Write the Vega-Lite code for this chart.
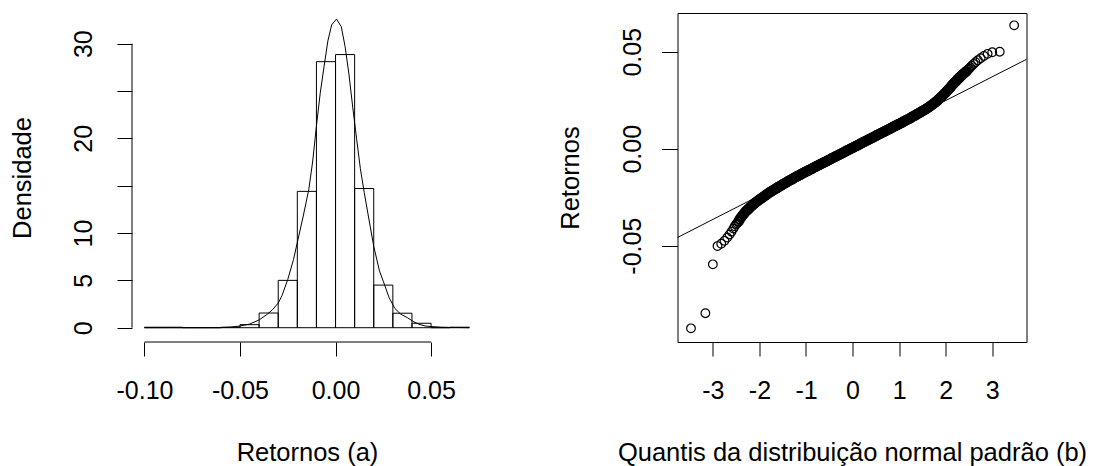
{
  "$schema": "https://vega.github.io/schema/vega-lite/v6.json",
  "autosize": {"type": "pad"},
  "padding": {"left": 10, "top": 12, "right": 5, "bottom": 0},
  "background": "white",
  "bounds": "flush",
  "spacing": 195.5,
  "config": {
    "font": "Liberation Sans",
    "axis": {
      "grid": false,
      "labelFont": "Liberation Sans",
      "titleFont": "Liberation Sans",
      "labelFontSize": 25,
      "titleFontSize": 25.5,
      "titleFontWeight": "normal",
      "labelColor": "#000",
      "titleColor": "#000",
      "tickColor": "#000",
      "tickWidth": 1,
      "labelFlush": false,
      "labelOverlap": false,
      "labelBound": false
    }
  },
  "datasets": {
    "bins": [
      {"x": -0.10, "x2": -0.09, "y": 0.05},
      {"x": -0.09, "x2": -0.08, "y": 0.05},
      {"x": -0.08, "x2": -0.07, "y": 0},
      {"x": -0.07, "x2": -0.06, "y": 0},
      {"x": -0.06, "x2": -0.05, "y": 0.05},
      {"x": -0.05, "x2": -0.04, "y": 0.32},
      {"x": -0.04, "x2": -0.03, "y": 1.55},
      {"x": -0.03, "x2": -0.02, "y": 5.0},
      {"x": -0.02, "x2": -0.01, "y": 14.4},
      {"x": -0.01, "x2": 0.0, "y": 28.1},
      {"x": 0.0, "x2": 0.01, "y": 28.85},
      {"x": 0.01, "x2": 0.02, "y": 14.7},
      {"x": 0.02, "x2": 0.03, "y": 4.5},
      {"x": 0.03, "x2": 0.04, "y": 1.53},
      {"x": 0.04, "x2": 0.05, "y": 0.47},
      {"x": 0.05, "x2": 0.06, "y": 0},
      {"x": 0.06, "x2": 0.07, "y": 0.05}
    ],
    "dens": [
      {"x": -0.100, "y": 0}, {"x": -0.060, "y": 0.01}, {"x": -0.055, "y": 0.06},
      {"x": -0.050, "y": 0.18}, {"x": -0.045, "y": 0.38}, {"x": -0.040, "y": 0.82},
      {"x": -0.036, "y": 1.38}, {"x": -0.033, "y": 1.9}, {"x": -0.030, "y": 2.6},
      {"x": -0.028, "y": 3.4}, {"x": -0.025, "y": 5.1}, {"x": -0.022, "y": 7.2},
      {"x": -0.020, "y": 9.0}, {"x": -0.017, "y": 11.7}, {"x": -0.014, "y": 14.6},
      {"x": -0.012, "y": 17.5}, {"x": -0.010, "y": 21.3}, {"x": -0.008, "y": 24.8},
      {"x": -0.006, "y": 27.6}, {"x": -0.004, "y": 30.3}, {"x": -0.002, "y": 32.0},
      {"x": 0.0005, "y": 32.6}, {"x": 0.003, "y": 31.8}, {"x": 0.005, "y": 29.7},
      {"x": 0.007, "y": 26.8}, {"x": 0.009, "y": 23.3}, {"x": 0.011, "y": 20.0},
      {"x": 0.013, "y": 16.8}, {"x": 0.015, "y": 14.3}, {"x": 0.017, "y": 12.0},
      {"x": 0.020, "y": 8.6}, {"x": 0.023, "y": 6.0}, {"x": 0.025, "y": 4.9},
      {"x": 0.028, "y": 3.2}, {"x": 0.031, "y": 2.05}, {"x": 0.034, "y": 1.45},
      {"x": 0.0376, "y": 1.06}, {"x": 0.041, "y": 0.62}, {"x": 0.0437, "y": 0.36},
      {"x": 0.047, "y": 0.18}, {"x": 0.050, "y": 0.12}, {"x": 0.055, "y": 0.06},
      {"x": 0.060, "y": 0.03}, {"x": 0.065, "y": 0.02}, {"x": 0.070, "y": 0.0}
    ],
    "hxaxis": [{"x": -0.10, "x2": 0.05, "y": -1.51}],
    "hyaxis": [{"x": -0.10653, "y": 0, "y2": 30}],
    "qqline": [{"x": -3.9, "y": -0.0475}, {"x": 3.9, "y": 0.0481}],
    "qq": [
      {"x":-3.47,"y":-0.0926},{"x":-3.16,"y":-0.0848},{"x":-3.00,"y":-0.0596},{"x":-2.90,"y":-0.0502},
      {"x":-2.82,"y":-0.0490},{"x":-2.75,"y":-0.0475},{"x":-2.69,"y":-0.0458},{"x":-2.64,"y":-0.0442},
      {"x":-2.60,"y":-0.0428},{"x":-2.56,"y":-0.0412},{"x":-2.53,"y":-0.0400},{"x":-2.50,"y":-0.0390},
      {"x":-2.48,"y":-0.0384},{"x":-2.45,"y":-0.0375},{"x":-2.425,"y":-0.0365},{"x":-2.40,"y":-0.0355},
      {"x":-2.375,"y":-0.0348},{"x":-2.35,"y":-0.0340},{"x":-2.325,"y":-0.0333},{"x":-2.30,"y":-0.0325},
      {"x":-2.275,"y":-0.0319},{"x":-2.25,"y":-0.0314},{"x":-2.225,"y":-0.0308},{"x":-2.20,"y":-0.0302},
      {"x":-2.175,"y":-0.0297},{"x":-2.15,"y":-0.0291},{"x":-2.125,"y":-0.0286},{"x":-2.10,"y":-0.0280},
      {"x":-2.075,"y":-0.0276},{"x":-2.05,"y":-0.0271},{"x":-2.025,"y":-0.0267},{"x":-2.00,"y":-0.0262},
      {"x":-1.975,"y":-0.0258},{"x":-1.95,"y":-0.0254},{"x":-1.925,"y":-0.0250},{"x":-1.90,"y":-0.0245},
      {"x":-1.875,"y":-0.0241},{"x":-1.85,"y":-0.0237},{"x":-1.825,"y":-0.0232},{"x":-1.80,"y":-0.0228},
      {"x":-1.775,"y":-0.0224},{"x":-1.75,"y":-0.0221},{"x":-1.725,"y":-0.0217},{"x":-1.70,"y":-0.0213},
      {"x":-1.675,"y":-0.0209},{"x":-1.65,"y":-0.0206},{"x":-1.625,"y":-0.0202},{"x":-1.60,"y":-0.0198},
      {"x":-1.575,"y":-0.0195},{"x":-1.55,"y":-0.0191},{"x":-1.525,"y":-0.0188},{"x":-1.50,"y":-0.0184},
      {"x":-1.475,"y":-0.0181},{"x":-1.45,"y":-0.0177},{"x":-1.425,"y":-0.0174},{"x":-1.40,"y":-0.0170},
      {"x":-1.375,"y":-0.0167},{"x":-1.35,"y":-0.0163},{"x":-1.325,"y":-0.0160},{"x":-1.30,"y":-0.0157},
      {"x":-1.275,"y":-0.0153},{"x":-1.25,"y":-0.0150},{"x":-1.225,"y":-0.0146},{"x":-1.20,"y":-0.0143},
      {"x":-1.175,"y":-0.0140},{"x":-1.15,"y":-0.0137},{"x":-1.125,"y":-0.0134},{"x":-1.10,"y":-0.0131},
      {"x":-1.075,"y":-0.0127},{"x":-1.05,"y":-0.0124},{"x":-1.025,"y":-0.0121},{"x":-1.00,"y":-0.0118},
      {"x":-0.975,"y":-0.0115},{"x":-0.95,"y":-0.0112},{"x":-0.925,"y":-0.0109},{"x":-0.90,"y":-0.0106},
      {"x":-0.875,"y":-0.0103},{"x":-0.85,"y":-0.0100},{"x":-0.825,"y":-0.0096},{"x":-0.80,"y":-0.0093},
      {"x":-0.775,"y":-0.0090},{"x":-0.75,"y":-0.0087},{"x":-0.725,"y":-0.0084},{"x":-0.70,"y":-0.0081},
      {"x":-0.675,"y":-0.0078},{"x":-0.65,"y":-0.0075},{"x":-0.625,"y":-0.0072},{"x":-0.60,"y":-0.0069},
      {"x":-0.575,"y":-0.0066},{"x":-0.55,"y":-0.0063},{"x":-0.525,"y":-0.0060},{"x":-0.50,"y":-0.0057},
      {"x":-0.475,"y":-0.0053},{"x":-0.45,"y":-0.0050},{"x":-0.425,"y":-0.0047},{"x":-0.40,"y":-0.0044},
      {"x":-0.375,"y":-0.0041},{"x":-0.35,"y":-0.0038},{"x":-0.325,"y":-0.0035},{"x":-0.30,"y":-0.0032},
      {"x":-0.275,"y":-0.0029},{"x":-0.25,"y":-0.0026},{"x":-0.225,"y":-0.0023},{"x":-0.20,"y":-0.0020},
      {"x":-0.175,"y":-0.0017},{"x":-0.15,"y":-0.0013},{"x":-0.125,"y":-0.0010},{"x":-0.10,"y":-0.0007},
      {"x":-0.075,"y":-0.0004},{"x":-0.05,"y":-0.0001},{"x":-0.025,"y":0.0002},{"x":0.00,"y":0.0005},
      {"x":0.025,"y":0.0008},{"x":0.05,"y":0.0011},{"x":0.075,"y":0.0014},{"x":0.10,"y":0.0017},
      {"x":0.125,"y":0.0020},{"x":0.15,"y":0.0023},{"x":0.175,"y":0.0027},{"x":0.20,"y":0.0030},
      {"x":0.225,"y":0.0033},{"x":0.25,"y":0.0036},{"x":0.275,"y":0.0039},{"x":0.30,"y":0.0042},
      {"x":0.325,"y":0.0045},{"x":0.35,"y":0.0048},{"x":0.375,"y":0.0051},{"x":0.40,"y":0.0054},
      {"x":0.425,"y":0.0057},{"x":0.45,"y":0.0060},{"x":0.475,"y":0.0063},{"x":0.50,"y":0.0067},
      {"x":0.525,"y":0.0070},{"x":0.55,"y":0.0073},{"x":0.575,"y":0.0076},{"x":0.60,"y":0.0079},
      {"x":0.625,"y":0.0082},{"x":0.65,"y":0.0085},{"x":0.675,"y":0.0088},{"x":0.70,"y":0.0091},
      {"x":0.725,"y":0.0094},{"x":0.75,"y":0.0097},{"x":0.775,"y":0.0100},{"x":0.80,"y":0.0103},
      {"x":0.825,"y":0.0106},{"x":0.85,"y":0.0110},{"x":0.875,"y":0.0113},{"x":0.90,"y":0.0116},
      {"x":0.925,"y":0.0119},{"x":0.95,"y":0.0122},{"x":0.975,"y":0.0125},{"x":1.00,"y":0.0128},
      {"x":1.025,"y":0.0131},{"x":1.05,"y":0.0134},{"x":1.075,"y":0.0137},{"x":1.10,"y":0.0141},
      {"x":1.125,"y":0.0144},{"x":1.15,"y":0.0147},{"x":1.175,"y":0.0150},{"x":1.20,"y":0.0153},
      {"x":1.225,"y":0.0156},{"x":1.25,"y":0.0160},{"x":1.275,"y":0.0163},{"x":1.30,"y":0.0167},
      {"x":1.325,"y":0.0170},{"x":1.35,"y":0.0173},{"x":1.375,"y":0.0177},{"x":1.40,"y":0.0180},
      {"x":1.425,"y":0.0184},{"x":1.45,"y":0.0187},{"x":1.475,"y":0.0191},{"x":1.50,"y":0.0194},
      {"x":1.525,"y":0.0198},{"x":1.55,"y":0.0201},{"x":1.575,"y":0.0205},{"x":1.60,"y":0.0208},
      {"x":1.625,"y":0.0212},{"x":1.65,"y":0.0216},{"x":1.675,"y":0.0221},{"x":1.70,"y":0.0225},
      {"x":1.725,"y":0.0230},{"x":1.75,"y":0.0234},{"x":1.775,"y":0.0239},{"x":1.80,"y":0.0244},
      {"x":1.825,"y":0.0249},{"x":1.85,"y":0.0255},{"x":1.875,"y":0.0260},{"x":1.90,"y":0.0266},
      {"x":1.925,"y":0.0272},{"x":1.95,"y":0.0278},{"x":1.975,"y":0.0284},{"x":2.00,"y":0.0290},
      {"x":2.025,"y":0.0297},{"x":2.05,"y":0.0303},{"x":2.075,"y":0.0310},{"x":2.10,"y":0.0316},
      {"x":2.125,"y":0.0324},{"x":2.15,"y":0.0331},{"x":2.175,"y":0.0337},{"x":2.20,"y":0.0343},
      {"x":2.225,"y":0.0349},{"x":2.25,"y":0.0356},{"x":2.275,"y":0.0362},{"x":2.30,"y":0.0368},
      {"x":2.325,"y":0.0374},{"x":2.35,"y":0.0379},{"x":2.375,"y":0.0385},{"x":2.40,"y":0.0390},
      {"x":2.425,"y":0.0395},{"x":2.45,"y":0.0400},{"x":2.48,"y":0.0407},{"x":2.50,"y":0.0412},
      {"x":2.53,"y":0.0420},{"x":2.56,"y":0.0428},{"x":2.60,"y":0.0437},{"x":2.64,"y":0.0446},
      {"x":2.69,"y":0.0456},{"x":2.75,"y":0.0466},{"x":2.82,"y":0.0478},{"x":2.90,"y":0.0489},
      {"x":3.00,"y":0.0497},{"x":3.16,"y":0.0500},{"x":3.47,"y":0.0636}
    ]
  },
  "hconcat": [
    {
      "width": 350,
      "height": 329,
      "view": {"stroke": null},
      "layer": [
        {
          "data": {"name": "bins"},
          "mark": {"type": "bar", "fill": "white", "fillOpacity": 0, "stroke": "#000", "strokeWidth": 1, "clip": false},
          "encoding": {
            "x": {
              "field": "x", "type": "quantitative", "title": "Retornos (a)",
              "scale": {"domain": [-0.10653, 0.07666], "nice": false, "zero": false},
              "axis": {
                "values": [-0.1, -0.05, 0, 0.05],
                "domain": false,
                "tickSize": 14,
                "labelPadding": 42,
                "labelBaseline": "alphabetic",
                "labelExpr": "replace(format(datum.value, '.2f'), '\u2212', '-')",
                "titleBaseline": "alphabetic",
                "titleY": 118.5
              }
            },
            "x2": {"field": "x2"},
            "y": {
              "field": "y", "type": "quantitative", "title": "Densidade",
              "scale": {"domain": [-1.51, 33.24], "nice": false, "zero": false},
              "axis": {
                "values": [0, 5, 10, 15, 20, 25, 30],
                "domain": false,
                "tickSize": 15,
                "labelPadding": 26,
                "labelAngle": 270,
                "labelAlign": "center",
                "labelBaseline": "alphabetic",
                "labelExpr": "datum.value == 15 || datum.value == 25 ? '' : datum.label",
                "titleAngle": 270,
                "titleAlign": "center",
                "titleBaseline": "alphabetic",
                "titleX": -101.5
              }
            },
            "y2": {"datum": 0}
          }
        },
        {
          "data": {"name": "dens"},
          "mark": {"type": "line", "color": "#000", "strokeWidth": 1, "clip": true},
          "encoding": {
            "x": {"field": "x", "type": "quantitative", "title": "Retornos (a)"},
            "y": {"field": "y", "type": "quantitative", "title": "Densidade"}
          }
        },
        {
          "data": {"name": "hxaxis"},
          "mark": {"type": "rule", "color": "#000", "strokeWidth": 1},
          "encoding": {
            "x": {"field": "x", "type": "quantitative", "title": "Retornos (a)"},
            "x2": {"field": "x2"},
            "y": {"field": "y", "type": "quantitative", "title": "Densidade"}
          }
        },
        {
          "data": {"name": "hyaxis"},
          "mark": {"type": "rule", "color": "#000", "strokeWidth": 1},
          "encoding": {
            "x": {"field": "x", "type": "quantitative", "title": "Retornos (a)"},
            "y": {"field": "y", "type": "quantitative", "title": "Densidade"},
            "y2": {"field": "y2"}
          }
        }
      ]
    },
    {
      "width": 349,
      "height": 329,
      "view": {"stroke": "#000", "strokeWidth": 1},
      "layer": [
        {
          "data": {"name": "qq"},
          "transform": [{"filter": "abs(datum.x) > 2.46"}],
          "mark": {"type": "point", "shape": "circle", "filled": false, "color": "#000", "size": 75, "strokeWidth": 1.2, "opacity": 1},
          "encoding": {
            "x": {
              "field": "x", "type": "quantitative", "title": "Quantis da distribuição normal padrão (b)",
              "scale": {"domain": [-3.759, 3.735], "nice": false, "zero": false},
              "axis": {
                "values": [-3, -2, -1, 0, 1, 2, 3],
                "domain": false,
                "tickSize": 14,
                "labelPadding": 42,
                "labelBaseline": "alphabetic",
                "labelExpr": "replace(format(datum.value, 'd'), '\u2212', '-')",
                "titleBaseline": "alphabetic",
                "titleY": 118.5
              }
            },
            "y": {
              "field": "y", "type": "quantitative", "title": "Retornos",
              "scale": {"domain": [-0.09964, 0.06995], "nice": false, "zero": false},
              "axis": {
                "values": [-0.05, 0, 0.05],
                "domain": false,
                "tickSize": 16,
                "labelPadding": 21.5,
                "labelAngle": 270,
                "labelAlign": "center",
                "labelBaseline": "alphabetic",
                "labelExpr": "replace(format(datum.value, '.2f'), '\u2212', '-')",
                "titleAngle": 270,
                "titleAlign": "center",
                "titleBaseline": "alphabetic",
                "titleX": -99
              }
            }
          }
        },
        {
          "data": {"name": "qq"},
          "transform": [{"filter": "abs(datum.x) <= 2.46"}],
          "mark": {"type": "point", "shape": "circle", "filled": false, "color": "#000", "size": 75, "strokeWidth": 2, "opacity": 1},
          "encoding": {
            "x": {"field": "x", "type": "quantitative", "title": "Quantis da distribuição normal padrão (b)"},
            "y": {"field": "y", "type": "quantitative", "title": "Retornos"}
          }
        },
        {
          "data": {"name": "qqline"},
          "mark": {"type": "line", "color": "#000", "strokeWidth": 1, "clip": true},
          "encoding": {
            "x": {"field": "x", "type": "quantitative", "title": "Quantis da distribuição normal padrão (b)"},
            "y": {"field": "y", "type": "quantitative", "title": "Retornos"}
          }
        }
      ]
    }
  ]
}
